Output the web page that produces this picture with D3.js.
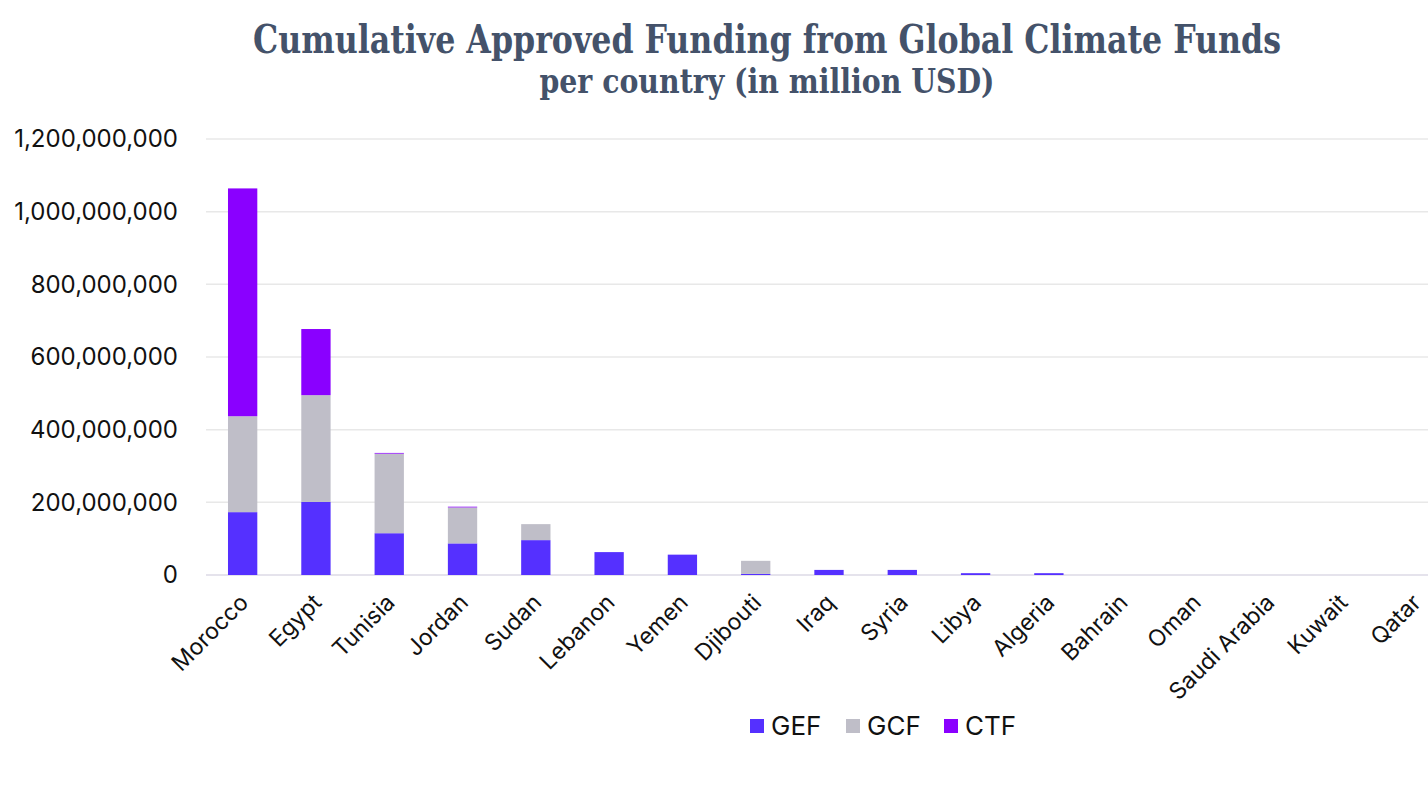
<!DOCTYPE html>
<html>
<head>
<meta charset="utf-8">
<script src="https://cdn.jsdelivr.net/npm/d3@7"></script>
<style>
  body { margin: 0; background: #fff; }
  svg { display: block; }
</style>
</head>
<body>
<div id="chart"></div>
<script>
var width = 1428;
var height = 788;

// data (USD)
var countries = ["Morocco", "Egypt", "Tunisia", "Jordan", "Sudan", "Lebanon", "Yemen", "Djibouti",
                 "Iraq", "Syria", "Libya", "Algeria", "Bahrain", "Oman", "Saudi Arabia", "Kuwait", "Qatar"];
var gef = [173e6, 201e6, 115e6, 87e6, 96e6, 63e6, 56e6, 3e6, 14e6, 14e6, 5e6, 5e6, 0, 0, 0, 0, 0];
var gcf = [264e6, 294e6, 219e6, 99e6, 44e6, 0, 0, 36e6, 0, 0, 0, 0, 0, 0, 0, 0, 0];
var ctf = [627e6, 182e6, 2e6, 2e6, 0, 0, 0, 0, 0, 0, 0, 0, 0, 0, 0, 0, 0];
var yTicks = [0, 200e6, 400e6, 600e6, 800e6, 1000e6, 1200e6];
var seriesNames = ["GEF", "GCF", "CTF"];
var seriesColors = ["#5530ff", "#bfbec8", "#8a00ff"];

var sansFont = "Inter, 'Liberation Sans', Arial, sans-serif";

var svg = d3.select('#chart')
            .append('svg')
                .attr("width", width)
                .attr("height", height);

// title
var title = svg.append("g")
    .attr("font-family", "'DejaVu Serif Condensed', 'Liberation Serif', serif")
    .attr("font-weight", "bold")
    .attr("fill", "#44526a")
    .attr("text-anchor", "middle");
title.append("text")
    .attr("x", 767).attr("y", 53)
    .attr("font-size", 39)
    .attr("textLength", 1028)
    .attr("lengthAdjust", "spacingAndGlyphs")
    .text("Cumulative Approved Funding from Global Climate Funds");
title.append("text")
    .attr("x", 767).attr("y", 93)
    .attr("font-size", 33)
    .attr("textLength", 455)
    .attr("lengthAdjust", "spacingAndGlyphs")
    .text("per country (in million USD)");

var xScale = d3.scaleBand()
                .domain(countries)
                .range([206, 1452])
                .paddingInner(0.6)
                .paddingOuter(0.3);

var yScale = d3.scaleLinear()
                .domain([0, 1200e6])
                .range([575, 139]);

// gridlines
svg.append("g")
    .selectAll("line")
    .data(yTicks)
    .enter()
    .append("line")
    .attr("x1", 206)
    .attr("x2", width)
    .attr("y1", function(d){ return yScale(d); })
    .attr("y2", function(d){ return yScale(d); })
    .attr("stroke", function(d){ return d == 0 ? "#dcdae6" : "#e8e8e8"; })
    .attr("stroke-width", 1.5);

// y axis labels
var fmt = d3.format(",");
var yAxis = svg.append("g")
    .attr("transform", "translate(178,0)")
    .call(d3.axisLeft(yScale).tickValues(yTicks).tickFormat(fmt).tickSize(0).tickPadding(0));
yAxis.select(".domain").remove();
yAxis.selectAll("text")
    .attr("font-family", sansFont)
    .attr("font-size", 24)
    .attr("fill", "#111");

// stacked bars
var rows = countries.map(function(c, i){
    return { country: c, GEF: gef[i], GCF: gcf[i], CTF: ctf[i] };
});
var stack = d3.stack().keys(seriesNames)(rows);

svg.append("g")
    .selectAll("g")
    .data(stack)
    .enter()
    .append("g")
    .attr("fill", function(d, i){ return seriesColors[i]; })
    .selectAll("rect")
    .data(function(d){ return d; })
    .enter()
    .append("rect")
    .attr("x", function(d){ return xScale(d.data.country); })
    .attr("y", function(d){ return yScale(d[1]); })
    .attr("width", xScale.bandwidth())
    .attr("height", function(d){ return yScale(d[0]) - yScale(d[1]); });

// x labels
svg.append("g")
    .selectAll("text")
    .data(countries)
    .enter()
    .append("text")
    .attr("transform", function(d){
        return "translate(" + (xScale(d) + xScale.bandwidth() / 2 + 7) + ",604) rotate(-45)";
    })
    .attr("text-anchor", "end")
    .attr("font-family", sansFont)
    .attr("font-size", 23)
    .attr("fill", "#111")
    .text(function(d){ return d; });

// legend
var legendX = [750, 846, 944];
var legend = svg.append("g")
    .selectAll("g")
    .data(seriesNames)
    .enter()
    .append("g")
    .attr("transform", function(d, i){ return "translate(" + legendX[i] + ",719)"; });
legend.append("rect")
    .attr("width", 14).attr("height", 14)
    .attr("fill", function(d, i){ return seriesColors[i]; });
legend.append("text")
    .attr("x", 21).attr("y", 16)
    .attr("font-family", sansFont)
    .attr("font-size", 26)
    .attr("fill", "#111")
    .text(function(d){ return d; });
</script>
</body>
</html>
